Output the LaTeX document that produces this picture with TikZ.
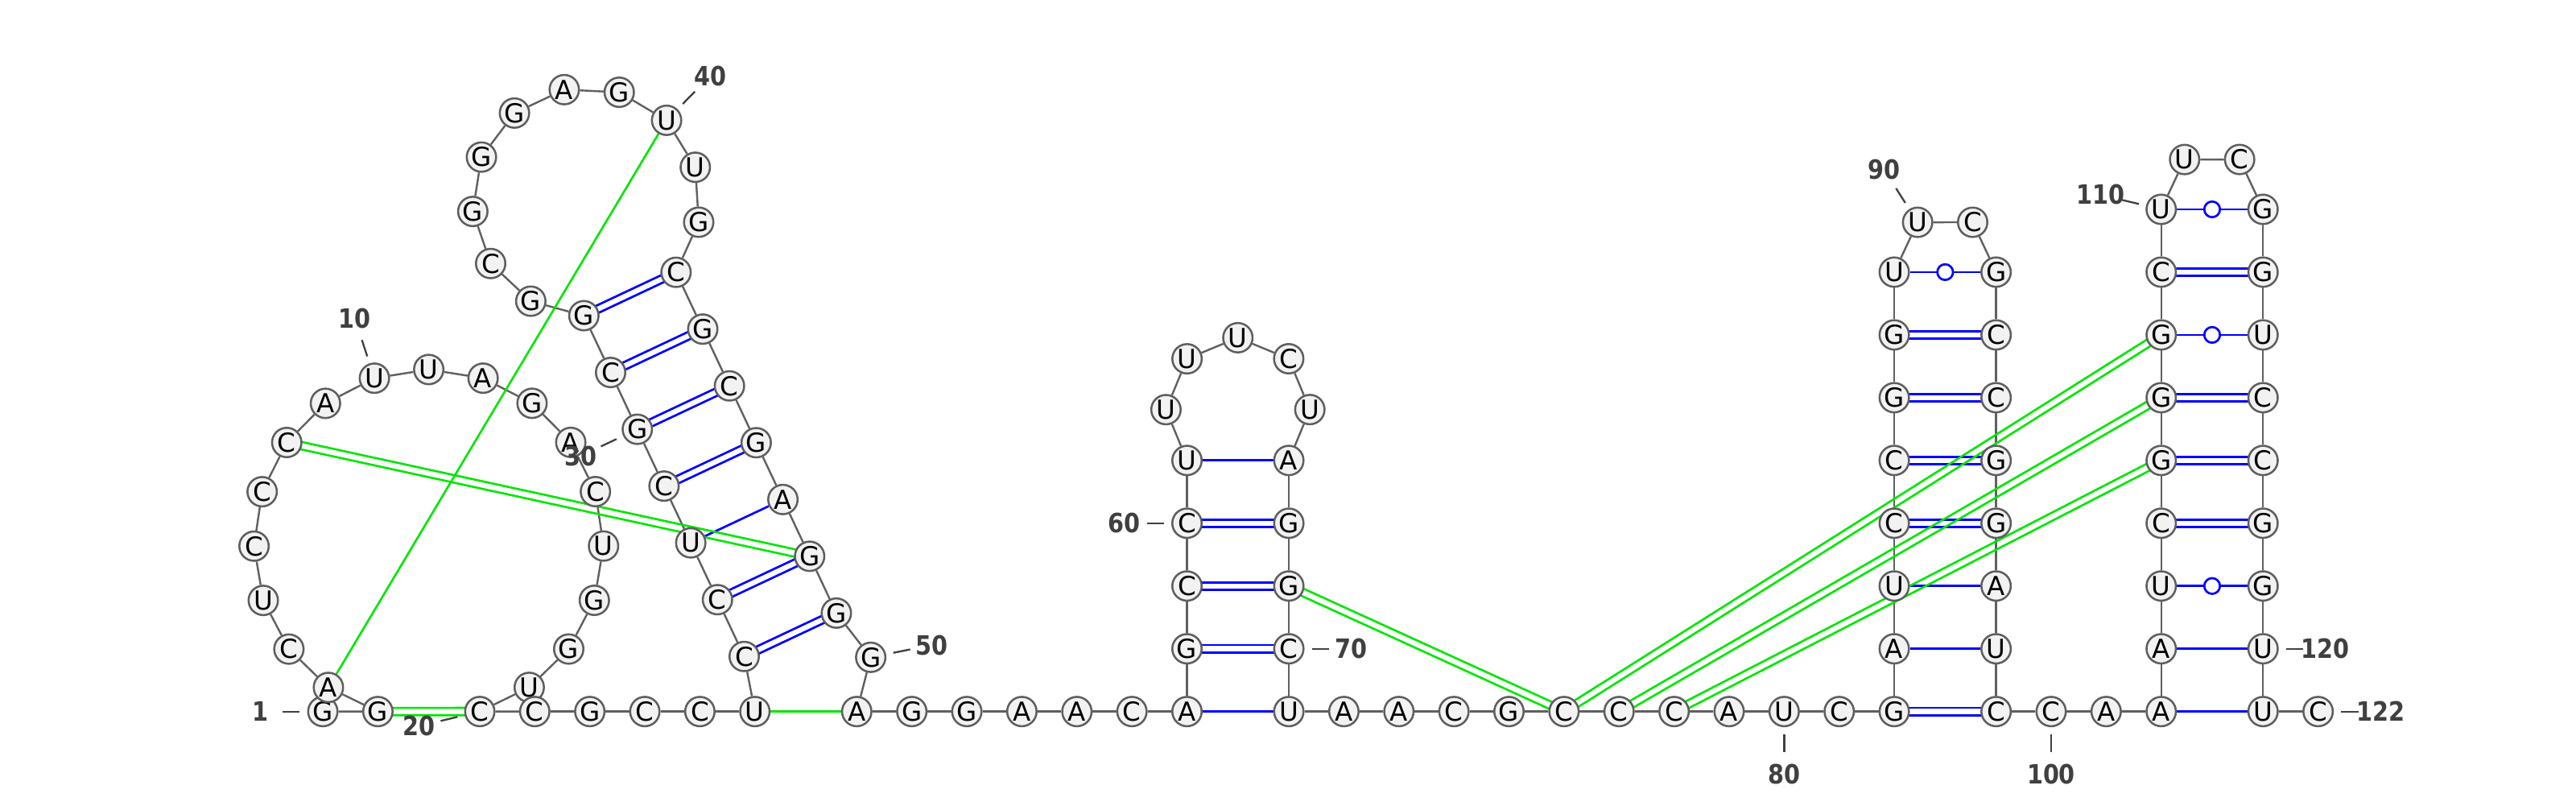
\documentclass[tikz,border=0pt]{standalone}
\usepackage{fontspec}
\usetikzlibrary{calc}
\newfontfamily\basefont{DejaVu Sans}
\newfontfamily\numfont[FakeStretch=0.87]{DejaVu Sans}
\definecolor{nodefill}{HTML}{F2F2F2}
\definecolor{bordc}{HTML}{5E5E5E}
\definecolor{bbc}{HTML}{606060}
\definecolor{numc}{HTML}{404040}
\definecolor{pairblue}{HTML}{0000FF}
\definecolor{pkgreen}{HTML}{00E600}
\pgfdeclarelayer{bg}\pgfdeclarelayer{bbl}\pgfdeclarelayer{bpl}\pgfdeclarelayer{gpl}
\pgfsetlayers{bg,bbl,bpl,gpl,main}
\tikzset{
 base/.style={circle, draw=bordc, fill=nodefill, line width=2.5pt, minimum size=36.5pt, inner sep=0pt, font=\basefont\fontsize{32.5}{32.5}\selectfont},
 bbone/.style={draw=bbc, line width=2.4pt},
 bpair/.style={draw=pairblue, line width=2.7pt},
 gpair/.style={draw=pkgreen, line width=2.6pt},
 wob/.style={circle, draw=pairblue, fill=white, line width=2.7pt, minimum size=19.5pt, inner sep=0pt},
 tickline/.style={draw=numc, line width=2.3pt},
 numlab/.style={text=numc, inner sep=0pt, font=\numfont\bfseries\fontsize{33}{33}\selectfont},
}
\newcommand\pairD[3]{\draw[#3] ($(#1)!4.6pt!90:(#2)$) -- ($(#2)!4.6pt!-90:(#1)$); \draw[#3] ($(#1)!4.6pt!-90:(#2)$) -- ($(#2)!4.6pt!90:(#1)$);}
\newcommand\pairS[3]{\draw[#3] (#1) -- (#2);}
\newcommand\pairW[2]{\draw[bpair] (#1) -- (#2); \node[wob] at ($(#1)!0.5!(#2)$) {};}
\newcommand\numtag[3]{\draw[tickline] ($(#1)+(#2:14)$) -- ($(#1)+(#2:24.5)$); \node[numlab] at ($(#1)+(#2:38)$) {#3};}
\begin{document}
\begin{tikzpicture}[x=2.0408pt,y=2.0408pt]
\begin{pgfonlayer}{bg}\fill[white] (0,0) rectangle (1568,488);\end{pgfonlayer}
\useasboundingbox (0,0) rectangle (1568,488);
% ---------- nodes ----------
\node[base] (n1) at (196.5,55) {G};
\coordinate (c1) at (261,156.76);
\foreach \i/\ltr in {2/G,3/A,4/C,5/U,6/C,7/C,8/C,9/A,10/U,11/U,12/A,13/G,14/A,15/C,16/U,17/G,18/G,19/U,20/C}
  \node[base] (n\i) at ($(c1)+({253.06-18.116*(\i-2)}:106.38)$) {\ltr};
\foreach \i/\ltr in {21/C,22/G,23/C,24/C,25/U}
  \node[base] (n\i) at ({292+33.5*(\i-20)},55) {\ltr};
\coordinate (s1) at (355.4,295.9);
\foreach \k/\ltr in {6/C,5/C,4/U,3/C,2/G,1/C,0/G}
  {\pgfmathtruncatemacro\idx{32-\k}\node[base] (n\idx) at ($(s1)+(-64.8:{38.2*\k})$) {\ltr};}
\coordinate (c2) at ($(s1)+(25.2:31)+(115.2:62.15)$);
\foreach \j/\ltr in {1/G,2/C,3/G,4/G,5/G,6/A,7/G,8/U,9/U,10/G}
  {\pgfmathtruncatemacro\idx{32+\j}\node[base] (n\idx) at ($(c2)+({268.69-27.91*\j}:69.45)$) {\ltr};}
\foreach \k/\ltr in {0/C,1/G,2/C,3/G,4/A,5/G,6/G}
  {\pgfmathtruncatemacro\idx{43+\k}\node[base] (n\idx) at ($(s1)+(-64.8:{38.2*\k})+(25.2:62)$) {\ltr};}
\node[base] (n50) at (530,88) {G};
\foreach \i/\ltr in {51/A,52/G,53/G,54/A,55/A,56/C}
  \node[base] (n\i) at ({521.5+33.5*(\i-51)},55) {\ltr};
\foreach \k/\ltr in {0/A,1/G,2/C,3/C,4/U}
  {\pgfmathtruncatemacro\idx{57+\k}\node[base] (n\idx) at (722.5,{55+38.2*\k}) {\ltr};}
\coordinate (c3) at (753.5,238.7);
\foreach \j/\ltr in {1/U,2/U,3/U,4/C,5/U}
  {\pgfmathtruncatemacro\idx{61+\j}\node[base] (n\idx) at ($(c3)+({224.94-44.97*\j}:43.79)$) {\ltr};}
\foreach \k/\ltr in {4/A,3/G,2/G,1/C,0/U}
  {\pgfmathtruncatemacro\idx{71-\k}\node[base] (n\idx) at (784.5,{55+38.2*\k}) {\ltr};}
\foreach \i/\ltr in {72/A,73/A,74/C,75/G,76/C,77/C,78/C,79/A,80/U,81/C}
  \node[base] (n\i) at ({818+33.5*(\i-72)},55) {\ltr};
\foreach \k/\ltr in {0/G,1/A,2/U,3/C,4/C,5/G,6/G,7/U}
  {\pgfmathtruncatemacro\idx{82+\k}\node[base] (n\idx) at (1153,{55+38.2*\k}) {\ltr};}
\coordinate (c4) at (1184,326.35);
\node[base] (n90) at ($(c4)+(122.44:31.25)$) {U};
\node[base] (n91) at ($(c4)+(57.62:31.25)$) {C};
\foreach \k/\ltr in {7/G,6/C,5/C,4/G,3/G,2/A,1/U,0/C}
  {\pgfmathtruncatemacro\idx{99-\k}\node[base] (n\idx) at (1215,{55+38.2*\k}) {\ltr};}
\node[base] (n100) at (1248.5,55) {C};
\node[base] (n101) at (1282,55) {A};
\foreach \k/\ltr in {0/A,1/A,2/U,3/C,4/G,5/G,6/G,7/C,8/U}
  {\pgfmathtruncatemacro\idx{102+\k}\node[base] (n\idx) at (1315.5,{55+38.2*\k}) {\ltr};}
\coordinate (c5) at (1346.5,364.55);
\node[base] (n111) at ($(c5)+(122.44:31.25)$) {U};
\node[base] (n112) at ($(c5)+(57.62:31.25)$) {C};
\foreach \k/\ltr in {8/G,7/G,6/U,5/C,4/C,3/G,2/G,1/U,0/U}
  {\pgfmathtruncatemacro\idx{121-\k}\node[base] (n\idx) at (1377.5,{55+38.2*\k}) {\ltr};}
\node[base] (n122) at (1411,55) {C};
% ---------- backbone ----------
\begin{pgfonlayer}{bbl}
\foreach \i in {1,...,121}{\pgfmathtruncatemacro\nx{\i+1}\draw[bbone] (n\i) -- (n\nx);}
\end{pgfonlayer}
% ---------- canonical pairs ----------
\begin{pgfonlayer}{bpl}
\pairD{n32}{n43}{bpair}\pairD{n31}{n44}{bpair}\pairD{n30}{n45}{bpair}\pairD{n29}{n46}{bpair}
\pairS{n28}{n47}{bpair}\pairD{n27}{n48}{bpair}\pairD{n26}{n49}{bpair}
\pairS{n57}{n71}{bpair}\pairD{n58}{n70}{bpair}\pairD{n59}{n69}{bpair}\pairD{n60}{n68}{bpair}\pairS{n61}{n67}{bpair}
\pairD{n82}{n99}{bpair}\pairS{n83}{n98}{bpair}\pairS{n84}{n97}{bpair}\pairD{n85}{n96}{bpair}
\pairD{n86}{n95}{bpair}\pairD{n87}{n94}{bpair}\pairD{n88}{n93}{bpair}\pairW{n89}{n92}
\pairS{n102}{n121}{bpair}\pairS{n103}{n120}{bpair}\pairW{n104}{n119}\pairD{n105}{n118}{bpair}
\pairD{n106}{n117}{bpair}\pairD{n107}{n116}{bpair}\pairW{n108}{n115}\pairD{n109}{n114}{bpair}\pairW{n110}{n113}
\end{pgfonlayer}
% ---------- pseudoknot pairs ----------
\begin{pgfonlayer}{gpl}
\pairD{n2}{n20}{gpair}\pairS{n3}{n40}{gpair}\pairD{n8}{n48}{gpair}\pairS{n25}{n51}{gpair}
\pairD{n69}{n76}{gpair}\pairD{n76}{n108}{gpair}\pairD{n77}{n107}{gpair}\pairD{n78}{n106}{gpair}
\end{pgfonlayer}
% ---------- numbering ----------
\numtag{n1}{180}{1}
\numtag{n10}{108.13}{10}
\numtag{n20}{193.5}{20}
\numtag{n30}{205.2}{30}
\numtag{n40}{45.41}{40}
\numtag{n50}{11.3}{50}
\numtag{n60}{180}{60}
\numtag{n70}{0}{70}
\numtag{n80}{270}{80}
\numtag{n90}{122.44}{90}
\numtag{n100}{270}{100}
\numtag{n110}{166.5}{110}
\numtag{n120}{0}{120}
\numtag{n122}{0}{122}
\end{tikzpicture}
\end{document}
